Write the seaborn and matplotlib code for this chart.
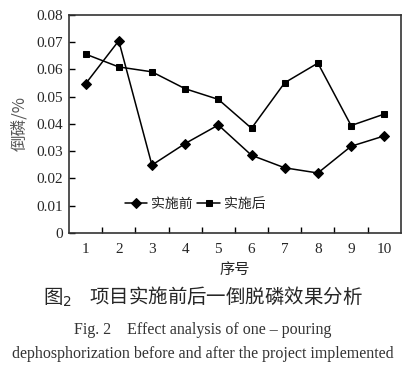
import matplotlib
matplotlib.use("Agg")
import matplotlib.pyplot as plt
import numpy as np
import pandas as pd
import seaborn as sns
from matplotlib.ticker import FixedLocator

# Data
samples = [1, 2, 3, 4, 5, 6, 7, 8, 9, 10]
before = [0.0547, 0.0705, 0.0249, 0.0328, 0.0396, 0.0285, 0.0239, 0.0220, 0.0318, 0.0356]
after = [0.0656, 0.0609, 0.0591, 0.0529, 0.0490, 0.0384, 0.0551, 0.0623, 0.0394, 0.0436]
series_names = ["实施前", "实施后"]
yticks = [0, 0.01, 0.02, 0.03, 0.04, 0.05, 0.06, 0.07, 0.08]
ytick_labels = ["0", "0.01", "0.02", "0.03", "0.04", "0.05", "0.06", "0.07", "0.08"]

sns.set_theme(style="white")
plt.rcParams["font.family"] = ["Liberation Serif", "Noto Sans CJK SC", "DejaVu Sans"]

df = pd.DataFrame({
    "pos": list(range(len(samples))) * 2,
    "value": before + after,
    "series": [series_names[0]] * len(samples) + [series_names[1]] * len(samples),
})

fig = plt.figure(figsize=(4.18, 3.71), dpi=100)
ax = fig.add_axes([0.165, 0.372, 0.794, 0.588])

sns.lineplot(
    data=df, x="pos", y="value", hue="series", style="series",
    markers={"实施前": "D", "实施后": "s"}, dashes=False,
    palette={"实施前": "black", "实施后": "black"},
    markersize=5, linewidth=1.1, markeredgecolor="black", ax=ax,
)

ax.set_xlim(-0.5, len(samples) - 0.5)
ax.set_ylim(0, 0.08)
ax.set_xticks(range(len(samples)))
ax.set_xticklabels([str(s) for s in samples], fontsize=11)
ax.xaxis.set_minor_locator(FixedLocator(np.arange(0.5, len(samples) - 1, 1.0)))
ax.tick_params(axis="x", which="major", length=0, pad=7)
ax.tick_params(axis="x", which="minor", direction="in", length=4, width=1, color="black", bottom=True)
ax.set_yticks(yticks)
ax.set_yticklabels(ytick_labels, fontsize=11)
ax.tick_params(axis="y", direction="in", length=4, width=1, color="black", left=True, pad=4)

for sp in ax.spines.values():
    sp.set_color("#333333")
    sp.set_linewidth(1.2)

ax.set_xlabel("序号", fontsize=11, family=["Noto Sans CJK SC"], labelpad=4)
ax.set_ylabel("倒磷/%", fontsize=12, family=["Noto Sans CJK SC"], color="#555555", labelpad=6)

leg = ax.legend(
    loc="lower left", bbox_to_anchor=(0.13, 0.045), ncol=2, frameon=False,
    handlelength=1.6, columnspacing=0.35, handletextpad=0.3,
    prop={"family": ["Noto Sans CJK SC"], "size": 10},
)

fig.text(0.485, 0.2, "图$_2$    项目实施前后一倒脱磷效果分析", ha="center", va="center",
         fontsize=14, family=["Noto Sans CJK SC", "DejaVu Sans"], fontweight="normal")
fig.text(0.485, 0.11, "Fig. 2    Effect analysis of one – pouring", ha="center", va="center",
         fontsize=11.5, family=["Liberation Serif"], color="#333333")
fig.text(0.485, 0.047, "dephosphorization before and after the project implemented", ha="center",
         va="center", fontsize=11.5, family=["Liberation Serif"], color="#333333")

fig.savefig("out.png", dpi=100)
